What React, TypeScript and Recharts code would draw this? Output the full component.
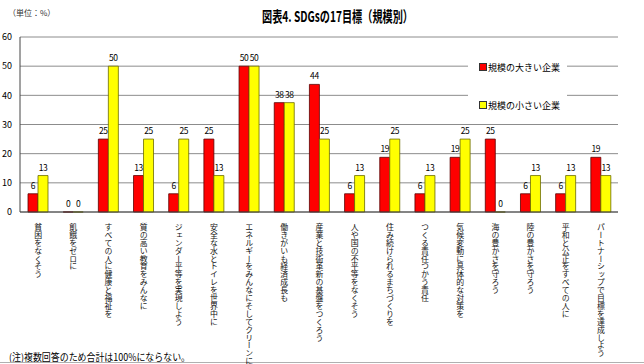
import { Bar, BarChart, CartesianGrid, LabelList, XAxis, YAxis } from "recharts";

// 17 SDG goals (labels are drawn vertically)
const goals = [
  "貧困をなくそう",
  "飢餓をゼロに",
  "すべての人に健康と福祉を",
  "質の高い教育をみんなに",
  "ジェンダー平等を実現しよう",
  "安全な水とトイレを世界中に",
  "エネルギーをみんなにそしてクリーンに",
  "働きがいも経済成長も",
  "産業と技術革新の基盤をつくろう",
  "人や国の不平等をなくそう",
  "住み続けられるまちづくりを",
  "つくる責任つかう責任",
  "気候変動に具体的な対策を",
  "海の豊かさを守ろう",
  "陸の豊かさを守ろう",
  "平和と公正をすべての人に",
  "パートナーシップで目標を達成しよう",
];

// % of respondents (bar heights; labels are rounded)
const large = [6.25, 0, 25, 12.5, 6.25, 25, 50, 37.5, 43.75, 6.25, 18.75, 6.25, 18.75, 25, 6.25, 6.25, 18.75];
const small = [12.5, 0, 50, 25, 25, 12.5, 50, 37.5, 25, 12.5, 25, 12.5, 25, 0, 12.5, 12.5, 12.5];

const yTicks = [0, 10, 20, 30, 40, 50, 60];

const seriesNames = { large: "規模の大きい企業", small: "規模の小さい企業" };

const JP = '"Noto Sans CJK JP", "Noto Sans", sans-serif';

const data = goals.map((g, i) => ({ goal: g, large: large[i], small: small[i] }));

const fmtLabel = (v: any) => String(Math.round(Number(v ?? 0)));

function VerticalTick({ x, y, payload }: any) {
  return (
    <text
      x={x + 0.5}
      y={y + 3}
      fontSize={7.9}
      fill="#111"
      fontFamily={JP}
      style={{ writingMode: "vertical-rl" }}
    >
      {payload.value}
    </text>
  );
}

function LegendBox() {
  const row = (color: string, label: string) => (
    <div style={{ display: "flex", alignItems: "center", height: 18 }}>
      <span
        style={{
          width: 6,
          height: 6,
          background: color,
          border: "1px solid #333",
          marginRight: 1,
        }}
      />
      <span style={{ fontSize: 9, color: "#000" }}>{label}</span>
    </div>
  );
  return (
    <div
      style={{
        position: "absolute",
        left: 468,
        top: 58,
        background: "#fff",
        width: 99,
        height: 56,
        paddingLeft: 11,
        boxSizing: "border-box",
        fontFamily: JP,
        display: "flex",
        flexDirection: "column",
        justifyContent: "space-between",
      }}
    >
      {row("#ff0000", seriesNames.large)}
      {row("#ffff00", seriesNames.small)}
    </div>
  );
}

export default function App() {
  return (
    <div
      style={{
        position: "absolute",
        left: 0,
        top: 0,
        width: 644,
        height: 364,
        background: "#fff",
        fontFamily: JP,
        overflow: "hidden",
      }}
    >
      <svg width={644} height={364} style={{ position: "absolute", left: 0, top: 0 }}>
        <text x={8} y={16} fontSize={8} fill="#333" fontFamily={JP}>
          （単位：%）
        </text>
        <text
          x={262}
          y={22}
          fontSize={15}
          fontWeight={700}
          fill="#000"
          fontFamily={JP}
          textLength={151}
          lengthAdjust="spacingAndGlyphs"
        >
          図表4. SDGsの17目標（規模別）
        </text>
        <text
          x={9}
          y={361}
          fontSize={10}
          fill="#000"
          fontFamily={JP}
          textLength={181}
          lengthAdjust="spacingAndGlyphs"
        >
          (注)複数回答のため合計は100%にならない。
        </text>
        <line x1={0} x2={644} y1={362.5} y2={362.5} stroke="#b0b0b0" />
      </svg>
      <div style={{ position: "absolute", left: 0, top: 0 }}>
        <BarChart
          width={644}
          height={364}
          data={data}
          margin={{ top: 37, right: 26, left: 0, bottom: 0 }}
          barSize={10}
          barGap={0}
        >
          <CartesianGrid vertical={false} stroke="#8c8c8c" strokeWidth={1} />
          <XAxis
            dataKey="goal"
            interval={0}
            height={152}
            tick={<VerticalTick />}
            tickLine={false}
            axisLine={{ stroke: "#444" }}
          />
          <YAxis
            domain={[0, 60]}
            ticks={yTicks}
            width={20}
            tickLine={false}
            axisLine={{ stroke: "#444" }}
            tick={{ fontSize: 9, fill: "#000", fontFamily: JP }}
          />
          <YAxis
            yAxisId="frame"
            orientation="right"
            width={0}
            domain={[0, 60]}
            tick={false}
            tickLine={false}
            axisLine={{ stroke: "#666" }}
          />
          <Bar
            dataKey="large"
            name={seriesNames.large}
            fill="#ff0000"
            stroke="#5a0000"
            strokeWidth={0.8}
            minPointSize={0.01}
            isAnimationActive={false}
          >
            <LabelList
              dataKey="large"
              position="top"
              offset={5}
              fontSize={8.5}
              letterSpacing={-0.4}
              fill="#000"
              formatter={fmtLabel}
            />
          </Bar>
          <Bar
            dataKey="small"
            name={seriesNames.small}
            fill="#ffff00"
            stroke="#6b6b00"
            strokeWidth={0.8}
            minPointSize={0.01}
            isAnimationActive={false}
          >
            <LabelList
              dataKey="small"
              position="top"
              offset={5}
              fontSize={8.5}
              letterSpacing={-0.4}
              fill="#000"
              formatter={fmtLabel}
            />
          </Bar>
        </BarChart>
      </div>
      <LegendBox />
    </div>
  );
}
